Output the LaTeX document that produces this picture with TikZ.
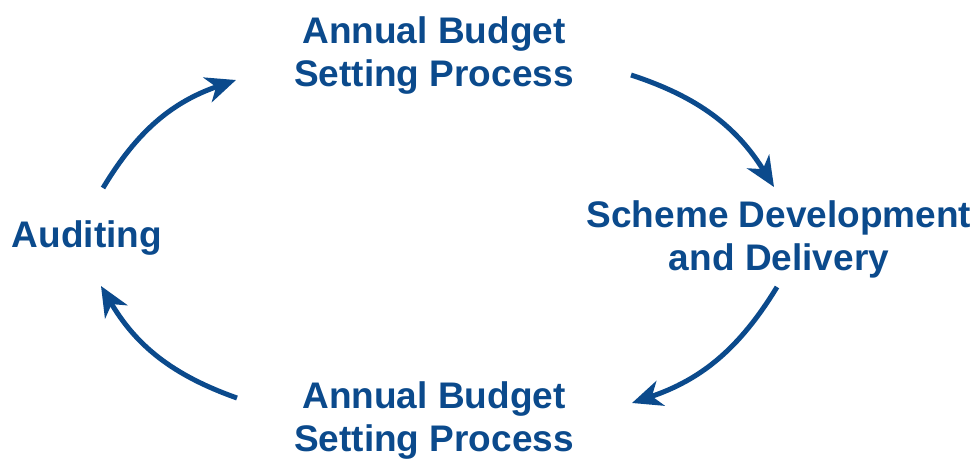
\documentclass[tikz,border=0pt]{standalone}
\usepackage{fontspec}
\setmainfont{Liberation Sans}
\usepackage{xcolor}
\usepackage{tikz}
\usetikzlibrary{arrows.meta}
\definecolor{cycleblue}{HTML}{0B4A8C}
\tikzstyle{stage} = [text=cycleblue, font=\fontsize{37}{43}\selectfont\bfseries, align=center, inner sep=0pt]
\tikzstyle{cycle} = [draw=cycleblue, line width=5pt, -{Stealth[length=30pt, width=26pt, inset=9pt]}]

\begin{document}
\begin{tikzpicture}[x=1pt, y=-1pt]
        \useasboundingbox (0,0) rectangle (978,460);

        % Nodes
        \node (budgettop) [stage] at (434,56) {Annual Budget\\Setting Process};
        \node (scheme) [stage] at (779,239) {Scheme Development\\and Delivery};
        \node (budgetbot) [stage] at (434,421) {Annual Budget\\Setting Process};
        \node (audit) [stage] at (87,238) {Auditing};

        % Arrow ends
        \coordinate (audit out) at (103,188);
        \coordinate (budgettop in) at (236,80);
        \coordinate (budgettop out) at (631,75);
        \coordinate (scheme in) at (774,187);
        \coordinate (scheme out) at (777,287);
        \coordinate (budgetbot in) at (632,403);
        \coordinate (budgetbot out) at (237,398);
        \coordinate (audit in) at (101,286);

        % Edges
        \draw [cycle] (audit out) to[bend left=20] (budgettop in);
        \draw [cycle] (budgettop out) to[bend left=20] (scheme in);
        \draw [cycle] (scheme out) to[bend left=20] (budgetbot in);
        \draw [cycle] (budgetbot out) to[bend left=20] (audit in);

\end{tikzpicture}
\end{document}
